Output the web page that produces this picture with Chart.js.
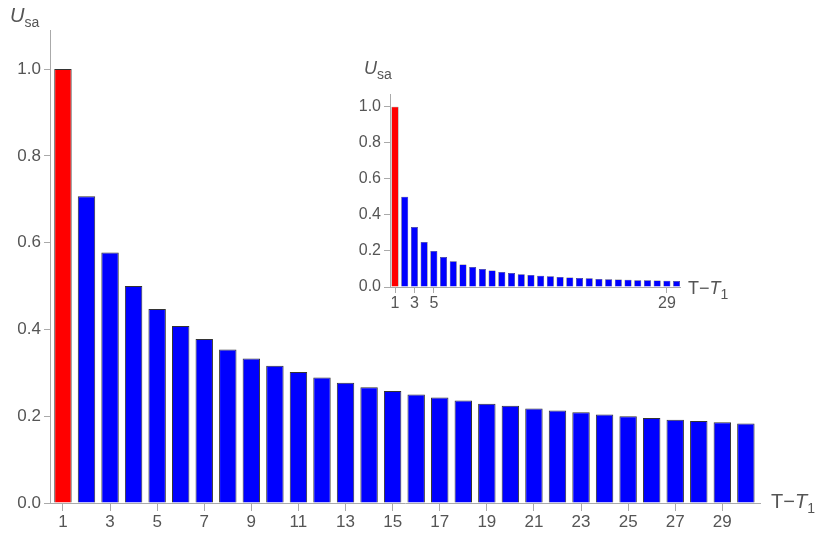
<!DOCTYPE html>
<html><head><meta charset="utf-8">
<script src="https://cdn.jsdelivr.net/npm/chart.js@4"></script>
<style>
body{margin:0;width:830px;height:540px;background:#fff;position:relative;font-family:"Liberation Sans",Arial,sans-serif;color:#555}
#main{position:absolute;left:0;top:0}
#inset{position:absolute;left:340px;top:60px}
.lbl{position:absolute;font-size:20px;color:#555;white-space:nowrap}
.lbl i{font-style:italic}
.lbl sub{font-size:14px}
</style></head><body>
<canvas id="main" width="830" height="540"></canvas>
<canvas id="inset" width="420" height="260"></canvas>
<div class="lbl" style="left:10px;top:4px"><i>U</i><sub>sa</sub></div>
<div class="lbl" style="left:771px;top:490px">T−<i>T</i><sub>1</sub></div>
<div class="lbl" style="left:364px;top:58px;font-size:18px"><i>U</i><sub>sa</sub></div>
<div class="lbl" style="left:688px;top:278px;font-size:18px">T−<i>T</i><sub>1</sub></div>
<script>
const steps=[1,2,3,4,5,6,7,8,9,10,11,12,13,14,15,16,17,18,19,20,21,22,23,24,25,26,27,28,29,30];
const mainValues=[1.0,0.707,0.577,0.5,0.447,0.408,0.378,0.354,0.333,0.316,0.302,0.289,0.277,0.267,0.258,0.25,0.243,0.236,0.229,0.224,0.218,0.213,0.209,0.204,0.2,0.196,0.192,0.189,0.186,0.183];
const insetValues=[1.0,0.5,0.333,0.25,0.2,0.167,0.143,0.125,0.111,0.1,0.091,0.083,0.077,0.071,0.067,0.063,0.059,0.056,0.053,0.05,0.048,0.045,0.043,0.042,0.04,0.038,0.037,0.036,0.034,0.033];
const mainXTicks=[1,3,5,7,9,11,13,15,17,19,21,23,25,27,29];
const insetXTicks=[1,3,5,29];
const yTicks=[0,0.2,0.4,0.6,0.8,1.0];
const colors=steps.map(s=>s===1?'#ff0000':'#0000ff');
function make(id,vals,xt,o){
 new Chart(document.getElementById(id),{type:'bar',
  data:{datasets:[{data:steps.map((s,i)=>({x:s,y:vals[i]})),backgroundColor:colors,borderColor:'#333',borderWidth:o.bw,barPercentage:o.bp,categoryPercentage:1}]},
  options:{responsive:false,animation:false,events:[],
   layout:{padding:o.pad},
   plugins:{legend:{display:false},tooltip:{enabled:false}},
   scales:{
    x:{type:'linear',offset:false,min:o.xmin,max:o.xmax,
     afterBuildTicks:s=>{s.ticks=xt.map(v=>({value:v}))},
     afterFit:s=>{s.height=o.xh},
     border:{color:'#aaa'},
     grid:{drawOnChartArea:false,offset:false,color:'#aaa',tickLength:o.tl},
     ticks:{color:'#555',font:{size:o.fs,family:'Liberation Sans'},padding:1,maxRotation:0,autoSkip:false,callback:v=>String(v)}},
    y:{min:0,max:o.ymax,
     afterBuildTicks:s=>{s.ticks=yTicks.map(v=>({value:v}))},
     afterFit:s=>{s.width=o.yw},
     border:{color:'#aaa'},
     grid:{drawOnChartArea:false,color:'#aaa',tickLength:6},
     ticks:{color:'#555',font:{size:o.fs,family:'Liberation Sans'},padding:3,callback:v=>v.toFixed(1)}}}}});
}
make('main',mainValues,mainXTicks,{pad:{left:5,right:70,top:30,bottom:7},xmin:0.45,xmax:30.6,ymax:1.09,xh:30,yw:45,fs:17,bp:0.74,tl:8,bw:1});
make('inset',insetValues,insetXTicks,{pad:{left:10,right:80,top:34,bottom:8},xmin:0.485,xmax:30.35,ymax:1.07,xh:25,yw:40,fs:16,bp:0.72,tl:6,bw:0.5});
</script></body></html>
